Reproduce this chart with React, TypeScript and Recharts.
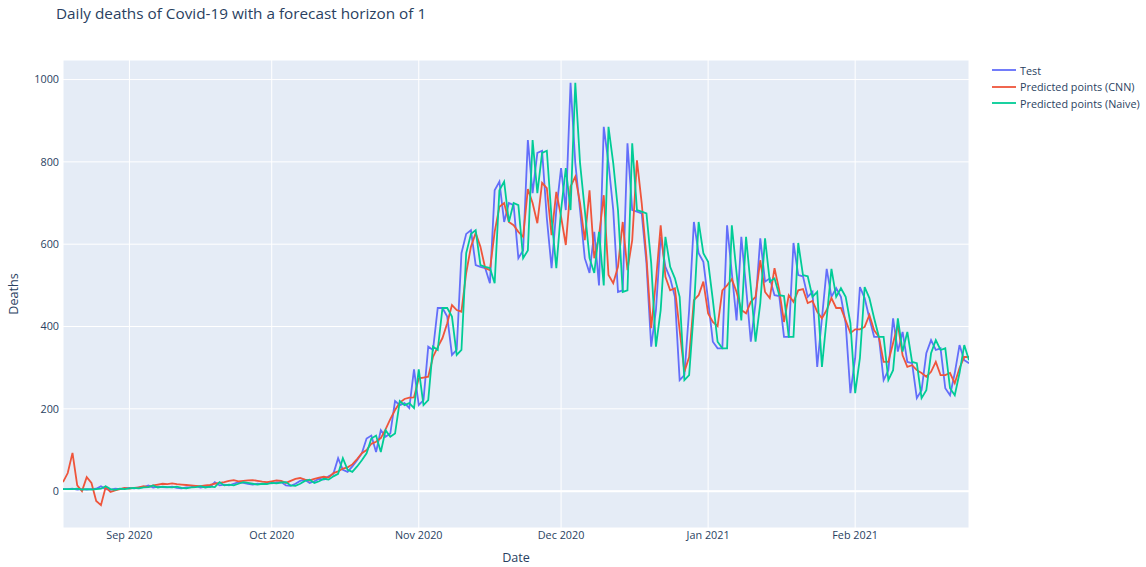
import { LineChart, Line, XAxis, YAxis, CartesianGrid, ReferenceLine } from 'recharts';

// daily values, starting 2020-08-18
const START_DATE = Date.UTC(2020, 7, 18);
const DAY = 24 * 60 * 60 * 1000;

const testDeaths = [
    5, 5, 6, 4, 5, 4, 5, 6, 12, 5,
    3, 6, 5, 7, 8, 7, 9, 10, 14, 9,
    11, 10, 9, 11, 8, 7, 9, 10, 12, 9,
    11, 10, 22, 14, 16, 14, 18, 22, 20, 18,
    16, 18, 17, 20, 19, 21, 22, 14, 13, 18,
    25, 28, 20, 24, 30, 28, 36, 42, 80, 52,
    47, 60, 75, 92, 128, 135, 95, 148, 132, 140,
    219, 209, 214, 202, 296, 209, 221, 351, 343, 445,
    445, 424, 331, 343, 578, 625, 634, 549, 545, 542,
    505, 731, 752, 654, 700, 695, 566, 585, 853, 724,
    822, 827, 663, 542, 683, 785, 683, 992, 797, 683,
    566, 530, 630, 500, 885, 797, 683, 484, 488, 845,
    683, 679, 675, 554, 351, 440, 618, 545, 517, 472,
    270, 282, 440, 654, 578, 557, 464, 363, 347, 347,
    646, 530, 415, 618, 496, 363, 457, 614, 509, 517,
    476, 474, 375, 375, 603, 525, 522, 472, 484, 302,
    420, 540, 472, 493, 472, 408, 238, 323, 496, 469,
    420, 375, 375, 270, 294, 420, 339, 387, 314, 311,
    226, 245, 335, 367, 343, 347, 250, 233, 287, 355,
    318, 311
];

const cnnDeaths = [
    22, 44, 93, 14, 0, 34, 20, -24, -34, 10,
    -2, 2, 5, 8, 6, 8, 9, 12, 10, 14,
    16, 18, 17, 19, 17, 16, 15, 14, 13, 12,
    14, 15, 18, 20, 22, 25, 27, 24, 25, 26,
    27, 25, 23, 22, 24, 26, 25, 20, 25, 30,
    32, 28, 26, 30, 33, 35, 33, 44, 48, 55,
    58, 65, 78, 92, 100, 115, 120, 129, 150, 175,
    197, 215, 224, 227, 228, 274, 276, 278, 326, 350,
    372, 408, 452, 440, 436, 530, 594, 627, 594, 542,
    537, 630, 691, 700, 654, 646, 630, 618, 734, 700,
    651, 749, 736, 622, 727, 667, 598, 740, 764, 700,
    610, 731, 566, 620, 719, 525, 505, 545, 654, 537,
    610, 804, 700, 569, 396, 510, 646, 521, 488, 493,
    391, 290, 326, 464, 476, 509, 432, 411, 401, 488,
    500, 515, 484, 440, 432, 460, 472, 561, 484, 469,
    542, 488, 411, 476, 460, 488, 491, 457, 462, 436,
    420, 440, 469, 445, 445, 415, 384, 393, 393, 399,
    428, 391, 375, 314, 314, 360, 405, 330, 302, 306,
    294, 287, 278, 290, 314, 282, 282, 287, 262, 299,
    326, 326
];

const naiveDeaths = [
    5, 5, 5, 6, 4, 5, 4, 5, 6, 12,
    5, 3, 6, 5, 7, 8, 7, 9, 10, 14,
    9, 11, 10, 9, 11, 8, 7, 9, 10, 12,
    9, 11, 10, 22, 14, 16, 14, 18, 22, 20,
    18, 16, 18, 17, 20, 19, 21, 22, 14, 13,
    18, 25, 28, 20, 24, 30, 28, 36, 42, 80,
    52, 47, 60, 75, 92, 128, 135, 95, 148, 132,
    140, 219, 209, 214, 202, 296, 209, 221, 351, 343,
    445, 445, 424, 331, 343, 578, 625, 634, 549, 545,
    542, 505, 731, 752, 654, 700, 695, 566, 585, 853,
    724, 822, 827, 663, 542, 683, 785, 683, 992, 797,
    683, 566, 530, 630, 500, 885, 797, 683, 484, 488,
    845, 683, 679, 675, 554, 351, 440, 618, 545, 517,
    472, 270, 282, 440, 654, 578, 557, 464, 363, 347,
    347, 646, 530, 415, 618, 496, 363, 457, 614, 509,
    517, 476, 474, 375, 375, 603, 525, 522, 472, 484,
    302, 420, 540, 472, 493, 472, 408, 238, 323, 496,
    469, 420, 375, 375, 270, 294, 420, 339, 387, 314,
    311, 226, 245, 335, 367, 343, 347, 250, 233, 287,
    355, 318
];

const xTicks = [
    Date.UTC(2020, 8, 1),
    Date.UTC(2020, 9, 1),
    Date.UTC(2020, 10, 1),
    Date.UTC(2020, 11, 1),
    Date.UTC(2021, 0, 1),
    Date.UTC(2021, 1, 1)
];
const yTicks = [0, 200, 400, 600, 800, 1000];
const MONTHS = ['Jan', 'Feb', 'Mar', 'Apr', 'May', 'Jun', 'Jul', 'Aug', 'Sep', 'Oct', 'Nov', 'Dec'];

const SERIES = [
    { key: 'test', name: 'Test', color: '#636efa' },
    { key: 'cnn', name: 'Predicted points (CNN)', color: '#ef553b' },
    { key: 'naive', name: 'Predicted points (Naive)', color: '#00cc96' }
];

const FONT = '"Open Sans", verdana, arial, sans-serif';
const TEXT = '#2a3f5f';

const data = testDeaths.map((v, i) => ({
    t: START_DATE + i * DAY,
    test: v,
    cnn: cnnDeaths[i],
    naive: naiveDeaths[i]
}));

const fmtDate = (t: number) => {
    const d = new Date(t);
    return `${MONTHS[d.getUTCMonth()]} ${d.getUTCFullYear()}`;
};

const App = () => {
    const tickStyle = { fill: TEXT, fontSize: 10.8, fontFamily: FONT };

    return (
        <div style={{ position: 'absolute', left: 0, top: 0, width: 1146, height: 567, background: '#fff', fontFamily: FONT }}>
            <div style={{ position: 'absolute', left: 56, top: 4, fontSize: 15.3, color: TEXT, lineHeight: '18px', whiteSpace: 'nowrap' }}>
                Daily deaths of Covid-19 with a forecast horizon of 1
            </div>

            <LineChart width={1146} height={567} data={data} margin={{ top: 60, right: 177, bottom: 0, left: 0 }}>
                <CartesianGrid fill="#e5ecf6" stroke="#ffffff" strokeWidth={1} />
                <XAxis
                    dataKey="t"
                    type="number"
                    domain={[data[0].t, data[data.length - 1].t]}
                    ticks={xTicks}
                    tickFormatter={fmtDate}
                    height={39}
                    axisLine={false}
                    tickLine={false}
                    tickSize={0}
                    tickMargin={3}
                    tick={tickStyle}
                    allowDataOverflow
                />
                <YAxis
                    type="number"
                    domain={[-89.5, 1047.5]}
                    ticks={yTicks}
                    width={63}
                    axisLine={false}
                    tickLine={false}
                    tickSize={0}
                    tickMargin={4}
                    tick={tickStyle}
                    allowDataOverflow
                />
                <ReferenceLine y={0} stroke="#ffffff" strokeWidth={2} />
                {SERIES.map(s => (
                    <Line
                        key={s.key}
                        type="linear"
                        dataKey={s.key}
                        name={s.name}
                        stroke={s.color}
                        strokeWidth={1.8}
                        dot={false}
                        activeDot={false}
                        isAnimationActive={false}
                    />
                ))}
            </LineChart>

            <div style={{ position: 'absolute', left: 516, top: 550, transform: 'translateX(-50%)', fontSize: 12.6, color: TEXT, lineHeight: '16px' }}>
                Date
            </div>
            <div style={{ position: 'absolute', left: 14, top: 294, transform: 'translate(-50%, -50%) rotate(-90deg)', fontSize: 12.6, color: TEXT, lineHeight: '16px' }}>
                Deaths
            </div>

            {/* légende à droite */}
            <div style={{ position: 'absolute', left: 990, top: 62 }}>
                {SERIES.map(s => (
                    <div key={s.key} style={{ display: 'flex', alignItems: 'center', height: 16.5 }}>
                        <svg width={28} height={6}>
                            <line x1={2} y1={3} x2={26} y2={3} stroke={s.color} strokeWidth={1.8} />
                        </svg>
                        <span style={{ fontSize: 10.8, color: TEXT, marginLeft: 2, whiteSpace: 'nowrap' }}>{s.name}</span>
                    </div>
                ))}
            </div>
        </div>
    );
};

export default App;
